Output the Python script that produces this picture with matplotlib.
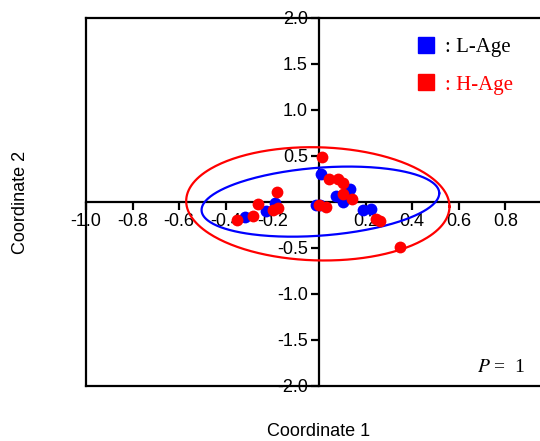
import numpy as np
import matplotlib
matplotlib.use("Agg")
import matplotlib.pyplot as plt
from matplotlib.lines import Line2D

plt.rcParams['font.family'] = ['Liberation Sans', 'DejaVu Sans']
plt.rcParams['mathtext.fontset'] = 'stix'

# group scores (coordinate 1, coordinate 2)
l_age_x = [-0.318, -0.227, -0.19, -0.013, 0.004, 0.007, 0.073, 0.104, 0.133, 0.187, 0.222]
l_age_y = [-0.166, -0.098, -0.014, -0.03, -0.03, 0.30, 0.07, -0.005, 0.14, -0.087, -0.078]

h_age_x = [-0.353, -0.285, -0.26, -0.199, -0.175, -0.18, 0.0, 0.029, 0.014, 0.044, 0.083,
           0.104, 0.104, 0.143, 0.245, 0.26, 0.348]
h_age_y = [-0.196, -0.15, -0.025, -0.087, -0.07, 0.11, -0.03, -0.058, 0.49, 0.25, 0.25,
           0.205, 0.085, 0.035, -0.19, -0.21, -0.486]

# confidence ellipses: center x, center y, x half-width, shear, y half-height
l_ell = [0.006, 0.004, 0.51, 0.091, 0.37]
h_ell = [-0.005, -0.02, 0.565, -0.03, 0.615]

xticks = [-1.0, -0.8, -0.6, -0.4, -0.2, 0.2, 0.4, 0.6, 0.8]
yticks = [-2.0, -1.5, -1.0, -0.5, 0.5, 1.0, 1.5, 2.0]

blue = '#0000ff'
red = '#ff0000'

fig = plt.figure(figsize=(5.4, 4.41), dpi=100)
pos = [86 / 540, 55 / 441, 466 / 540, 368 / 441]

# outer box
frame = fig.add_axes(pos)
frame.set_xticks([])
frame.set_yticks([])
for s in frame.spines.values():
    s.set_linewidth(1.6)

ax = fig.add_axes(pos)
ax.patch.set_alpha(0)
ax.set_xlim(-1.0, 1.0)
ax.set_ylim(-2.0, 2.0)
for s in ['top', 'right']:
    ax.spines[s].set_visible(False)
ax.spines['left'].set_position(('data', 0))
ax.spines['bottom'].set_position(('data', 0))
ax.spines['left'].set_linewidth(1.6)
ax.spines['bottom'].set_linewidth(1.6)
ax.set_xticks(xticks)
ax.set_yticks(yticks)
ax.set_xticklabels(['%.1f' % v for v in xticks])
ax.set_yticklabels(['%.1f' % v for v in yticks])
ax.tick_params(direction='out', length=6, width=1.6, labelsize=13, pad=2)

t = np.linspace(0, 2 * np.pi, 300)
for e, c in [(l_ell, blue), (h_ell, red)]:
    cx, cy, a, sh, b = e
    ax.plot(cx + a * np.cos(t), cy + sh * np.cos(t) + b * np.sin(t), color=c, lw=1.6, zorder=3)

ax.plot(l_age_x, l_age_y, 'o', color=blue, ms=8.5, mew=0, zorder=4)
ax.plot(h_age_x, h_age_y, 'o', color=red, ms=8.5, mew=0, zorder=5)

ax.xaxis.set_label_coords(0.5, -0.1)
ax.yaxis.set_label_coords(-0.122, 0.5)
ax.set_xlabel('Coordinate 1', fontsize=13)
ax.set_ylabel('Coordinate 2', fontsize=13)

handles = [Line2D([], [], ls='', marker='s', color=blue, ms=11),
           Line2D([], [], ls='', marker='s', color=red, ms=11)]
leg = fig.legend(handles, [': L-Age', ': H-Age'], loc='upper left',
                 bbox_to_anchor=(399 / 540, 1 - 19 / 441), frameon=False,
                 prop={'family': 'Liberation Serif', 'size': 15},
                 handlelength=0.8, handletextpad=0.5, labelspacing=0.85)
leg.get_texts()[1].set_color(red)

fig.text(477 / 540, 1 - 368 / 441, r'$P$ =  1', family='Liberation Serif',
         fontsize=14, va='center')

fig.savefig('out.png', dpi=100)
